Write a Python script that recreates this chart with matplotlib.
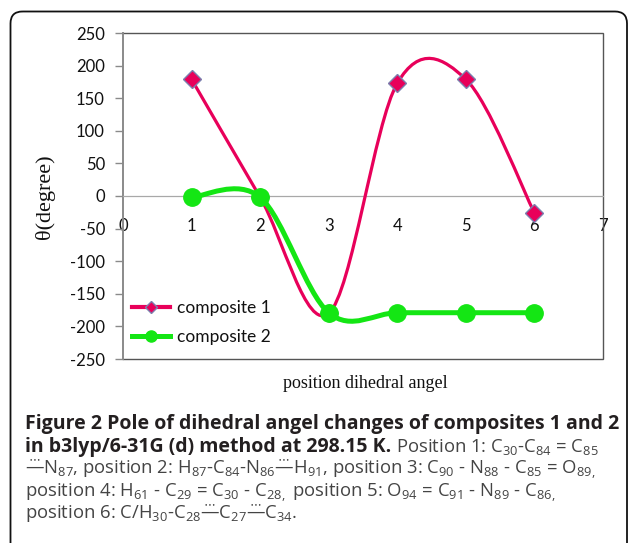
import numpy as np
import matplotlib
matplotlib.use("Agg")
import matplotlib.pyplot as plt
from matplotlib.path import Path
from matplotlib.patches import PathPatch, FancyBboxPatch
from matplotlib.lines import Line2D

# values
positions = [1, 2, 3, 4, 5, 6]
composite_1 = [179, -2, -180, 173, 179, -26]
composite_2 = [-2, -2, -179, -179, -179, -179]
series_names = ["composite 1", "composite 2"]
x_ticks = [0, 1, 2, 3, 4, 5, 6, 7]
y_ticks = [-250, -200, -150, -100, -50, 0, 50, 100, 150, 200, 250]

PINK = "#e8005a"
GREEN = "#14e614"

plt.rcParams["axes.unicode_minus"] = False
plt.rcParams["mathtext.fontset"] = "custom"
plt.rcParams["mathtext.rm"] = "Open Sans"
plt.rcParams["mathtext.bf"] = "Open Sans:bold"


def smooth_path(xs, ys):
    # Excel-style smoothed line: cubic bezier through every point
    pts = np.column_stack([xs, ys]).astype(float)
    n = len(pts)
    verts = [pts[0]]
    codes = [Path.MOVETO]
    for i in range(n - 1):
        p0 = pts[i - 1] if i > 0 else pts[i]
        p1, p2 = pts[i], pts[i + 1]
        p3 = pts[i + 2] if i + 2 < n else pts[i + 1]
        verts += [p1 + (p2 - p0) / 6, p2 - (p3 - p1) / 6, p2]
        codes += [Path.CURVE4] * 3
    return Path(verts, codes)


fig = plt.figure(figsize=(6.29, 5.43), dpi=100)

# background layer in pixel coordinates: frame + caption
bg = fig.add_axes([0, 0, 1, 1])
bg.set_xlim(0, 629)
bg.set_ylim(543, 0)
bg.axis("off")
bg.add_patch(FancyBboxPatch((10.5, 11.5), 616.5, 600, boxstyle="round,pad=0,rounding_size=12",
                            fill=False, ec="#111111", lw=1.3))

# chart
ax = fig.add_axes([123 / 629, 1 - 359 / 543, 480 / 629, 326 / 543])
ax.set_xlim(0, 7)
ax.set_ylim(-250, 250)
ax.set_xticks(x_ticks)
ax.set_yticks(y_ticks)
for s in ["top", "right"]:
    ax.spines[s].set_visible(False)
ax.spines["left"].set_color("#8a8a8a")
ax.spines["left"].set_linewidth(1.4)
ax.spines["bottom"].set_position(("data", 0))
ax.spines["bottom"].set_color("#a8a8a8")
ax.spines["bottom"].set_linewidth(0.9)
ax.plot([0, 1, 1, 0], [1, 1, 0, 0], transform=ax.transAxes, color="#555555", lw=1.0,
        clip_on=False, solid_joinstyle="miter")
ax.tick_params(axis="y", direction="out", length=6, width=1.0, color="#8a8a8a", pad=7,
               labelsize=12, labelcolor="#111111")
ax.tick_params(axis="x", length=0, pad=16, labelsize=12, labelcolor="#111111")
for lab in ax.get_xticklabels() + ax.get_yticklabels():
    lab.set_family("Lato")

ax.add_patch(PathPatch(smooth_path(positions, composite_1), fill=False, ec=PINK, lw=2.3, zorder=3))
ax.plot(positions, composite_1, ls="none", marker="D", ms=9, mfc=PINK, mec="#7c7fae", mew=1.0,
        zorder=4, clip_on=False)
ax.add_patch(PathPatch(smooth_path(positions, composite_2), fill=False, ec=GREEN, lw=3.6, zorder=5))
ax.plot(positions, composite_2, ls="none", marker="o", ms=12.5, mfc=GREEN, mec=GREEN,
        zorder=6, clip_on=False)

handles = [
    Line2D([], [], color=PINK, lw=3, marker="D", ms=6, mfc=PINK, mec="#7c7fae"),
    Line2D([], [], color=GREEN, lw=3.6, marker="o", ms=8, mfc=GREEN, mec=GREEN),
]
leg = ax.legend(handles, series_names, loc="center left", bbox_to_anchor=(0.019, 0.112),
                frameon=False, borderpad=0, borderaxespad=0, handlelength=2.2,
                handletextpad=0.4, labelspacing=0.75, numpoints=1,
                prop={"family": "Lato", "size": 12.5})
for t in leg.get_texts():
    t.set_color("#111111")

# axis titles
bg.text(45, 197, "θ(degree)", rotation=90, ha="center", va="center",
        family="Liberation Serif", size=16, color="#111111")
bg.text(365, 383, "position dihedral angel", ha="center", va="center",
        family="Liberation Serif", size=13, color="#111111")

# caption
BOLD = dict(family="Open Sans", weight="bold", size=14.0, color="#231f20", va="baseline")
REG = dict(family="Open Sans", size=13.3, color="#444444", va="baseline")
bond = r"$\overset{\cdots}{—}$"
cx = 25
bg.text(cx, 429, "Figure 2 Pole of dihedral angel changes of composites 1 and 2", **BOLD)
t2 = bg.text(cx, 452, "in b3lyp/6-31G (d) method at 298.15 K.", **BOLD)
fig.canvas.draw()
r = fig.canvas.get_renderer()
x_end = bg.transData.inverted().transform(t2.get_window_extent(r).get_points())[1, 0]
bg.text(x_end + 5, 452, "Position 1: C$_{30}$-C$_{84}$ = C$_{85}$", **REG)
bg.text(cx, 475, bond + "N$_{87}$, position 2: H$_{87}$-C$_{84}$-N$_{86}$" + bond
        + "H$_{91}$, position 3: C$_{90}$ - N$_{88}$ - C$_{85}$ = O$_{89,}$", **REG)
bg.text(cx, 497, "position 4: H$_{61}$ - C$_{29}$ = C$_{30}$ - C$_{28,}$ position 5: "
        "O$_{94}$ = C$_{91}$ - N$_{89}$ - C$_{86,}$", **REG)
bg.text(cx, 519, "position 6: C/H$_{30}$-C$_{28}$" + bond + "C$_{27}$" + bond + "C$_{34}$.", **REG)

fig.savefig("out.png", dpi=100)
